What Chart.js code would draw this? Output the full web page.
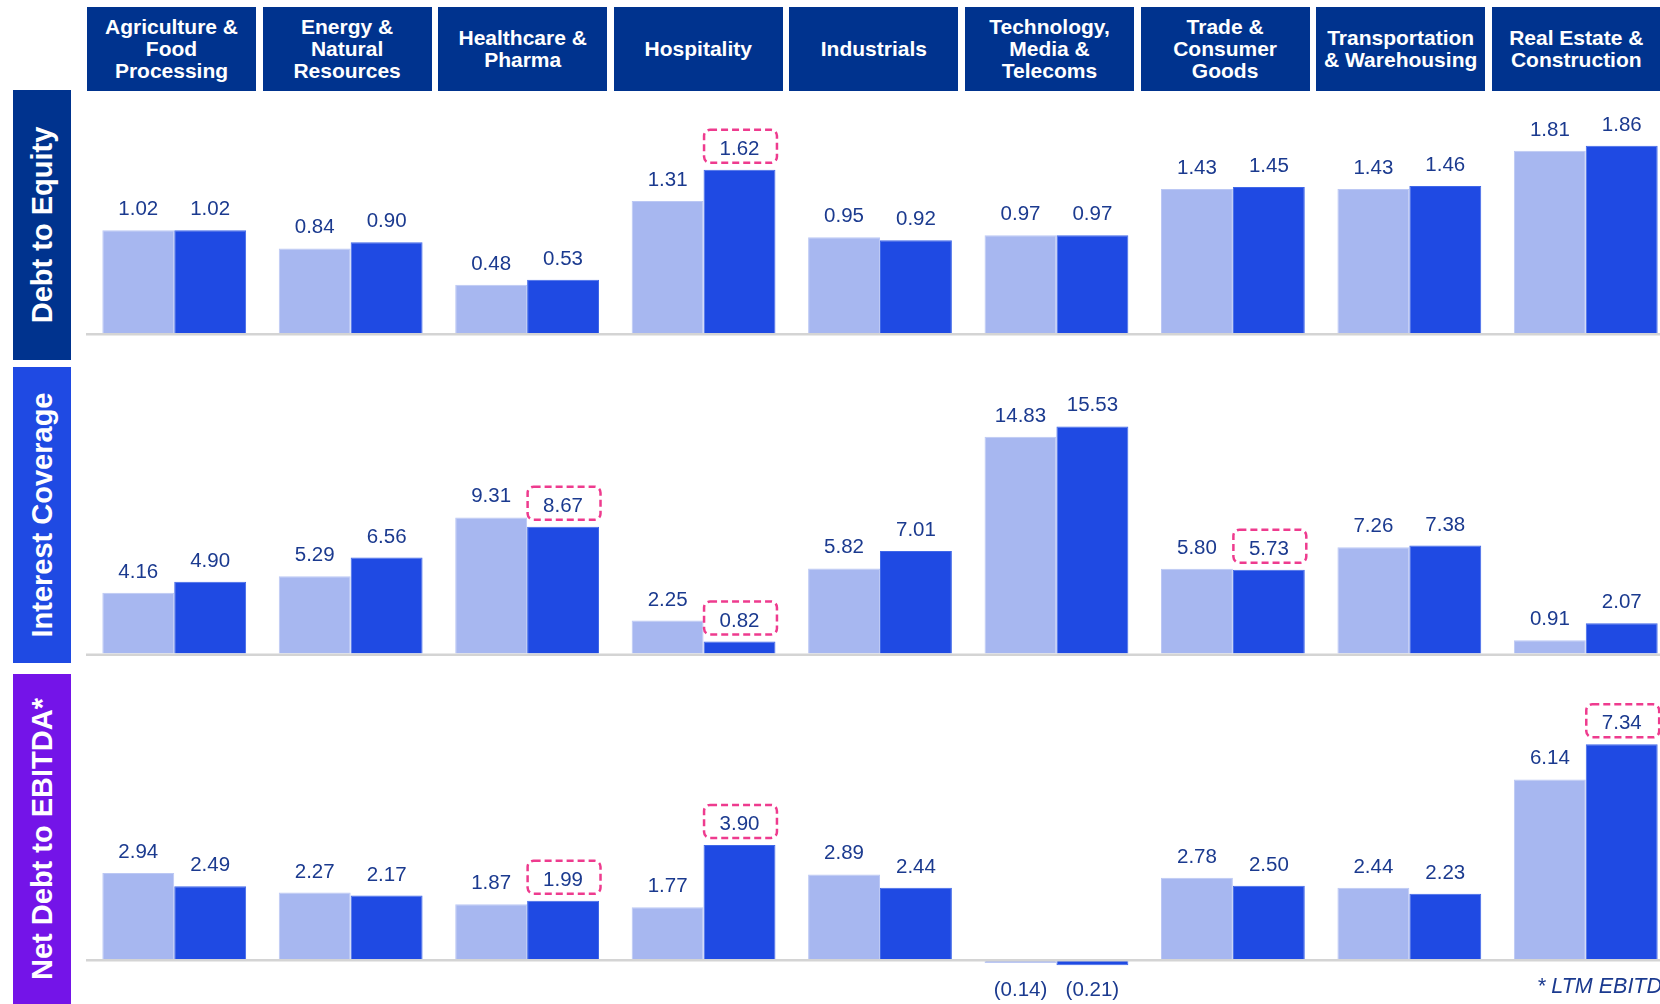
<!DOCTYPE html>
<html>
<head>
<meta charset="utf-8">
<script src="https://cdn.jsdelivr.net/npm/chart.js@4.4.1/dist/chart.umd.min.js"></script>
<style>
  html, body { margin:0; padding:0; background:#ffffff; }
  body { width:1660px; height:1004px; overflow:hidden; position:relative; font-family:"Liberation Sans", Arial, sans-serif; }
  .hdr { position:absolute; top:7px; width:169px; height:84px; background:#00338e; color:#fff;
         font-weight:bold; font-size:21px; line-height:22px; display:flex; align-items:center; justify-content:center; text-align:center; }
  .side { position:absolute; left:13px; width:58px; overflow:hidden; }
  .side span { position:absolute; left:50%; top:50%; white-space:nowrap; color:#fff; font-weight:bold; font-size:29px; line-height:32px;
               transform:translate(-50%,-50%) rotate(-90deg); }
  .panel { position:absolute; left:86px; }
  .foot { position:absolute; left:1537px; top:974px; font-style:italic; font-size:21.5px; color:#1b3a8f; white-space:nowrap; }
</style>
</head>
<body>
<script>
// ---------- data ----------
const categories = ["Agriculture & Food Processing","Energy & Natural Resources","Healthcare & Pharma","Hospitality","Industrials","Technology, Media & Telecoms","Trade & Consumer Goods","Transportation & Warehousing","Real Estate & Construction"];
const headerLines = [["Agriculture &","Food","Processing"],["Energy &","Natural","Resources"],["Healthcare &","Pharma"],["Hospitality"],["Industrials"],["Technology,","Media &","Telecoms"],["Trade &","Consumer","Goods"],["Transportation","& Warehousing"],["Real Estate &","Construction"]];
const panelTitles = ["Debt to Equity","Interest Coverage","Net Debt to EBITDA*"];

const debtEquityPrev = [1.02, 0.84, 0.48, 1.31, 0.95, 0.97, 1.43, 1.43, 1.81];
const debtEquityCurr = [1.02, 0.90, 0.53, 1.62, 0.92, 0.97, 1.45, 1.46, 1.86];
const debtEquityFlag = [0, 0, 0, 1, 0, 0, 0, 0, 0];

const interestCovPrev = [4.16, 5.29, 9.31, 2.25, 5.82, 14.83, 5.80, 7.26, 0.91];
const interestCovCurr = [4.90, 6.56, 8.67, 0.82, 7.01, 15.53, 5.73, 7.38, 2.07];
const interestCovFlag = [0, 0, 1, 1, 0, 0, 1, 0, 0];

const netDebtPrev = [2.94, 2.27, 1.87, 1.77, 2.89, -0.14, 2.78, 2.44, 6.14];
const netDebtCurr = [2.49, 2.17, 1.99, 3.90, 2.44, -0.21, 2.50, 2.23, 7.34];
const netDebtFlag = [0, 0, 1, 1, 0, 0, 0, 0, 1];

const footnote = "* LTM EBITDA";

// ---------- layout / style ----------
const LIGHT = '#a7b7f0', DARK = '#1f4ae3', LABEL = '#1b3a8f', PINK = '#ee3b8e';
const panels = [
  { title: panelTitles[0], color:'#00338e', boxTop:90,  boxH:270, top:96,  h:248, min:-0.10924, max:2.3535, prev:debtEquityPrev, curr:debtEquityCurr, flag:debtEquityFlag },
  { title: panelTitles[1], color:'#1f4ae3', boxTop:367, boxH:296, top:366, h:298, min:-0.7182,  max:19.665, prev:interestCovPrev, curr:interestCovCurr, flag:interestCovFlag },
  { title: panelTitles[2], color:'#7414e8', boxTop:674, boxH:330, top:672, h:332, min:-1.5385,  max:9.812,  prev:netDebtPrev, curr:netDebtCurr, flag:netDebtFlag }
];

// headers
headerLines.forEach((lines, i) => {
  const d = document.createElement('div');
  d.className = 'hdr';
  d.style.left = (87 + i * 175.6) + 'px';
  d.innerHTML = '<div>' + lines.map(l => l.replace(/&/g,'&amp;')).join('<br>') + '</div>';
  document.body.appendChild(d);
});

const fmt = v => v < 0 ? '(' + Math.abs(v).toFixed(2) + ')' : v.toFixed(2);

function rr(ctx, x, y, w, h, r) {
  ctx.beginPath();
  ctx.moveTo(x + r, y);
  ctx.lineTo(x + w - r, y); ctx.arcTo(x + w, y, x + w, y + r, r);
  ctx.lineTo(x + w, y + h - r); ctx.arcTo(x + w, y + h, x + w - r, y + h, r);
  ctx.lineTo(x + r, y + h); ctx.arcTo(x, y + h, x, y + h - r, r);
  ctx.lineTo(x, y + r); ctx.arcTo(x, y, x + r, y, r);
  ctx.closePath();
}

const labelPlugin = {
  id: 'valueLabels',
  afterDatasetsDraw(chart) {
    const ctx = chart.ctx;
    const ca = chart.chartArea;
    const y0 = chart.scales.y.getPixelForValue(0);
    ctx.save();
    ctx.fillStyle = '#d4d4d4';
    ctx.fillRect(ca.left, y0, ca.right - ca.left, 2.5);
    ctx.font = '20.5px "Liberation Sans", Arial, sans-serif';
    ctx.textAlign = 'center';
    chart.data.datasets.forEach((ds, di) => {
      const meta = chart.getDatasetMeta(di);
      meta.data.forEach((bar, i) => {
        const v = ds.data[i];
        ctx.fillStyle = LABEL;
        if (v >= 0) {
          ctx.textBaseline = 'alphabetic';
          ctx.fillText(fmt(v), bar.x, bar.y - 15);
        } else {
          ctx.textBaseline = 'middle';
          ctx.fillText(fmt(v), bar.x, y0 + 31);
        }
        if (ds.flag && ds.flag[i]) {
          ctx.save();
          ctx.setLineDash([7, 4]);
          ctx.lineWidth = 2.5;
          ctx.strokeStyle = PINK;
          rr(ctx, bar.x - bar.width / 2 + 0.5, bar.y - 40, bar.width + 1, 33, 6);
          ctx.stroke();
          ctx.restore();
        }
      });
    });
    ctx.restore();
  }
};

panels.forEach(p => {
  // side label
  const s = document.createElement('div');
  s.className = 'side';
  s.style.top = p.boxTop + 'px';
  s.style.height = p.boxH + 'px';
  s.style.background = p.color;
  s.innerHTML = '<span>' + p.title + '</span>';
  document.body.appendChild(s);

  // chart
  const wrap = document.createElement('div');
  wrap.className = 'panel';
  wrap.style.top = p.top + 'px';
  wrap.style.width = '1588px';
  wrap.style.height = p.h + 'px';
  const cv = document.createElement('canvas');
  cv.width = 1588; cv.height = p.h;
  cv.style.width = '1588px'; cv.style.height = p.h + 'px';
  wrap.appendChild(cv);
  document.body.appendChild(wrap);

  new Chart(cv.getContext('2d'), {
    type: 'bar',
    data: {
      labels: categories,
      datasets: [
        { label: 'Prior', data: p.prev, backgroundColor: LIGHT, borderColor: '#bcc8f4', borderWidth: 1, borderSkipped: 'start',
          categoryPercentage: 0.815, barPercentage: 1.0 },
        { label: 'Current', data: p.curr, flag: p.flag, backgroundColor: DARK, borderColor: '#4068e8', borderWidth: 1, borderSkipped: 'start',
          categoryPercentage: 0.815, barPercentage: 1.0 }
      ]
    },
    options: {
      responsive: false,
      maintainAspectRatio: false,
      animation: false,
      devicePixelRatio: 1,
      layout: { padding: 0 },
      plugins: { legend: { display: false }, tooltip: { enabled: false } },
      scales: {
        x: { display: false, grid: { display: false } },
        y: { display: false, min: p.min, max: p.max, grid: { display: false } }
      }
    },
    plugins: [labelPlugin]
  });
});

const f = document.createElement('div');
f.className = 'foot';
f.textContent = footnote;
document.body.appendChild(f);
</script>
</body>
</html>
